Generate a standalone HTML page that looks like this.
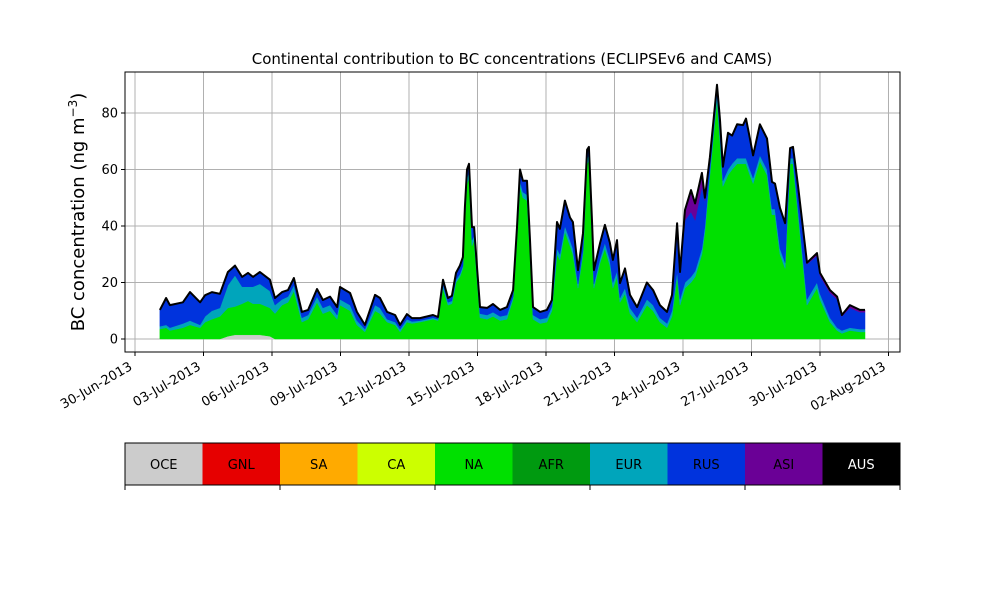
<!DOCTYPE html>
<html><head><meta charset="utf-8"><style>
body{margin:0;background:#fff;}
svg{display:block;font-family:"DejaVu Sans","Liberation Sans",sans-serif;}
</style></head><body>
<svg id="chart" width="1000" height="600" viewBox="0 0 1000 600"></svg>
<script>
const tDays = [1.09,1.36,1.53,2.10,2.41,2.85,3.07,3.37,3.72,4.07,
4.38,4.69,4.95,5.17,5.47,5.91,6.13,6.44,6.70,6.96,
7.31,7.58,7.97,8.23,8.54,8.85,8.98,9.42,9.72,10.07,
10.51,10.73,11.04,11.39,11.61,11.91,12.13,12.48,13.05,13.27,
13.49,13.71,13.88,14.06,14.23,14.36,14.45,14.54,14.63,14.76,
14.85,14.98,15.11,15.42,15.68,15.99,16.29,16.56,16.73,16.86,
16.99,17.17,17.30,17.43,17.74,18.04,18.26,18.48,18.61,18.83,
19.05,19.18,19.40,19.62,19.80,19.88,20.02,20.10,20.37,20.58,
20.80,20.93,21.11,21.24,21.46,21.68,21.99,22.42,22.69,22.99,
23.30,23.52,23.74,23.87,24.09,24.35,24.53,24.83,24.96,25.18,
25.49,25.62,25.75,25.97,26.15,26.37,26.63,26.76,26.93,27.07,
27.37,27.68,27.90,28.03,28.25,28.47,28.69,28.82,29.04,29.43,
29.87,30.00,30.44,30.75,30.96,31.31,31.75,31.97];
const oce = [0,0,0,0,0,0,0,0,0,1,
1.5,1.5,1.5,1.5,1.5,1,0,0,0,0,
0,0,0,0,0,0,0,0,0,0,
0,0,0,0,0,0,0,0,0,0,
0,0,0,0,0,0,0,0,0,0,
0,0,0,0,0,0,0,0,0,0,
0,0,0,0,0,0,0,0,0,0,
0,0,0,0,0,0,0,0,0,0,
0,0,0,0,0,0,0,0,0,0,
0,0,0,0,0,0,0,0,0,0,
0,0,0,0,0,0,0,0,0,0,
0,0,0,0,0,0,0,0,0,0,
0,0,0,0,0,0,0,0];
const na = [3.5,4,3,4,5,4,6,7,8,10,
10,11,12,11,11,10,9,12,13,17,
6,7,13,9,10,7,12,10,5,2.5,
10,9,6,5,2.5,6,5.5,6,7,6.5,
18,12,12.5,20,22,25,42,55,57,33,
35,21,7.5,7,8,6.5,7,14,35,54,
50,49,30,7,5.5,6,10,30,28,38,
33,30,18,30,62,63,34,18,27,32,
26,18,22,13,16,9,6,12,10,6,
4,8,22,12,18,20,22,30,38,58,
85,70,54,58,60,62,62,62,58,55,
63,58,44,44,30,25,62,62,44,12,
18,14,6,3,2,3,2.5,2.5];
const eur = [1,1,1,1.5,1.5,1,2,3,3,8,
11,6,5,6,7,6,3,2,2,2,
1.5,1.5,2,2,2,1.5,2,2,1.5,1,
2,2,1,1,1,1,0.7,0.5,0.5,0.5,
1,1,1,1,1,1,1.5,2,2,2,
1.5,1.5,1.5,1.5,1.5,1.5,1.5,1,1.5,2,
2,2,1.5,1.5,1.5,1.5,1.5,2,2,2,
2,2,1.5,1.5,2,2,2,1.5,1.5,2,
2,2,2,1.5,2,2,1.5,2,2,1.5,
1.5,2,2,2,2,2,2,2,2,2,
2,2,2,2,2,2,2,2,2,2,
2,2,2,2,2,2,2,2,2,2,
2,2,1.5,1,1,1,1,1];
const rus = [5.8,9.5,8,7.5,10.1,8,7.5,6.6,5,4.7,
3.5,3.5,4.9,3.5,4.2,4,2.5,2.6,2.3,2.6,
2.1,1.8,2.7,2.8,3,2.8,4.4,4.3,3.1,1.5,
3.6,3.5,2.6,2.5,1.5,1.8,1.2,0.9,1,0.8,
2,1.5,1.8,2.4,3,3,3.2,3,3,4.6,
3.1,3,2.3,2.5,2.9,2.3,2.8,2.3,3.1,4,
4,5,3.5,2.8,2.6,2.8,2.3,9.4,9,9,
8,9.4,4.9,6,3,3,5,4.9,5.5,6.4,
6,8,11,5.3,7,4.6,3.8,6,5.3,4.5,
4.1,5.6,17,9.7,22,23,18,22,9,4,
3,5.5,5,13,10,12,11.7,14,11,8,
11,11,9.6,9,14.4,14,3.6,4,8,12.5,
9.4,6.4,8.8,10,5,7,6,6];
const asi = [0,0,0,0,0,0,0,0,0,0,
0,0,0,0,0,0,0,0,0,0,
0,0,0,0,0,0,0,0,0,0,
0,0,0,0,0,0,0,0,0,0,
0,0,0,0,0,0,0,0,0,0,
0,0,0,0,0,0,0,0,0,0,
0,0,0,0,0,0,0,0,0,0,
0,0,0,0,0,0,0,0,0,0,
0,0,0,0,0,0,0,0,0,0,
0,0,0,0,3.7,7.7,6,4.8,1,0.4,
0,0,0,0,0,0,0,0,0,0,
0,0,0,0,0,0,0,0,0,0.5,
1,1,1,1,0.5,1,0.8,0.8];
const yTicks = [0,20,40,60,80];
const xTickDays = [0,3,6,9,12,15,18,21,24,27,30,33];
const xTickLabels = ["30-Jun-2013","03-Jul-2013","06-Jul-2013","09-Jul-2013","12-Jul-2013","15-Jul-2013","18-Jul-2013","21-Jul-2013","24-Jul-2013","27-Jul-2013","30-Jul-2013","02-Aug-2013"];
const regions = ["OCE","GNL","SA","CA","NA","AFR","EUR","RUS","ASI","AUS"];
const regionColors = ["#cccccc","#e60000","#ffaa00","#ccff00","#00e000","#009a10","#00a5bb","#0033dd","#6a0096","#000000"];

const NS="http://www.w3.org/2000/svg";
const svg=document.getElementById('chart');
function mk(tag,attrs,parent){const e=document.createElementNS(NS,tag);for(const k in attrs)e.setAttribute(k,attrs[k]);(parent||svg).appendChild(e);return e;}
const PL=125,PR=900,PT=72,PB=352;
function xs(d){return 135+d*22.833;}
function ys(v){return 339-v*2.825;}

yTicks.forEach(v=>{const l=mk('line',{x1:PL,x2:PR,y1:ys(v),y2:ys(v),stroke:'#b0b0b0','stroke-width':1});

});
xTickDays.forEach(d=>{const l=mk('line',{x1:xs(d),x2:xs(d),y1:PT,y2:PB,stroke:'#b0b0b0','stroke-width':1});

});

const layers=[oce,null,null,null,na,null,eur,rus,asi];
const n=Math.min(tDays.length,oce.length,na.length,eur.length,rus.length,asi.length);
let base=new Array(n).fill(0);
layers.forEach((arr,li)=>{
  if(!arr)return;
  const top=base.map((b,i)=>b+arr[i]);
  let d='M'+xs(tDays[0])+','+ys(top[0]);
  for(let i=1;i<n;i++)d+='L'+xs(tDays[i]).toFixed(1)+','+ys(top[i]).toFixed(1);
  for(let i=n-1;i>=0;i--)d+='L'+xs(tDays[i]).toFixed(1)+','+ys(base[i]).toFixed(1);
  d+='Z';
  const p=mk('path',{d:d,fill:regionColors[li],stroke:regionColors[li],'stroke-width':0.5});
  
  
  base=top;
});
let dl='';
for(let i=0;i<n;i++)dl+=(i?'L':'M')+xs(tDays[i]).toFixed(1)+','+ys(base[i]).toFixed(1);
const tl=mk('path',{d:dl,fill:'none',stroke:'#000','stroke-width':2,'stroke-linejoin':'round'});



const fr=mk('rect',{x:PL,y:PT,width:PR-PL,height:PB-PT,fill:'none',stroke:'#000','stroke-width':1});



yTicks.forEach(v=>{
  mk('line',{x1:PL-4,x2:PL,y1:ys(v),y2:ys(v),stroke:'#000'});
  const t=mk('text',{x:PL-7,y:ys(v)+4.5,'text-anchor':'end','font-size':13});
  t.textContent=v;
  
  
});
xTickDays.forEach((d,i)=>{
  const x=xs(d);
  mk('line',{x1:x,x2:x,y1:PB,y2:PB+4,stroke:'#000'});
  const ax=x-2, ay=PB+17;
  const t=mk('text',{x:ax,y:ay,'text-anchor':'end','font-size':13,transform:'rotate(-30 '+ax+' '+ay+')'});
  t.textContent=xTickLabels[i];
  
  
});
const title=mk('text',{x:512,y:64,'text-anchor':'middle','font-size':15});
title.textContent='Continental contribution to BC concentrations (ECLIPSEv6 and CAMS)';


const yl=mk('text',{x:0,y:0,'text-anchor':'middle','font-size':18,transform:'translate(84 212) rotate(-90)'});
yl.innerHTML='BC concentration (ng m<tspan dy="-7" font-size="12">−3</tspan><tspan dy="7">)</tspan>';



const bw=(PR-PL)/regions.length;
regions.forEach((r,i)=>{
  const rc=mk('rect',{x:PL+i*bw,y:443,width:bw,height:42,fill:regionColors[i]});
  
  
  const t=mk('text',{x:PL+i*bw+bw/2,y:469,'text-anchor':'middle','font-size':13,fill:r==='AUS'?'#fff':'#000'});
  t.textContent=r;
  
  
});
const cb=mk('rect',{x:PL,y:443,width:PR-PL,height:42,fill:'none',stroke:'#000'});


for(let k=0;k<=5;k++){mk('line',{x1:PL+k*(PR-PL)/5,x2:PL+k*(PR-PL)/5,y1:485,y2:490,stroke:'#000'});}
</script>
</body></html>
